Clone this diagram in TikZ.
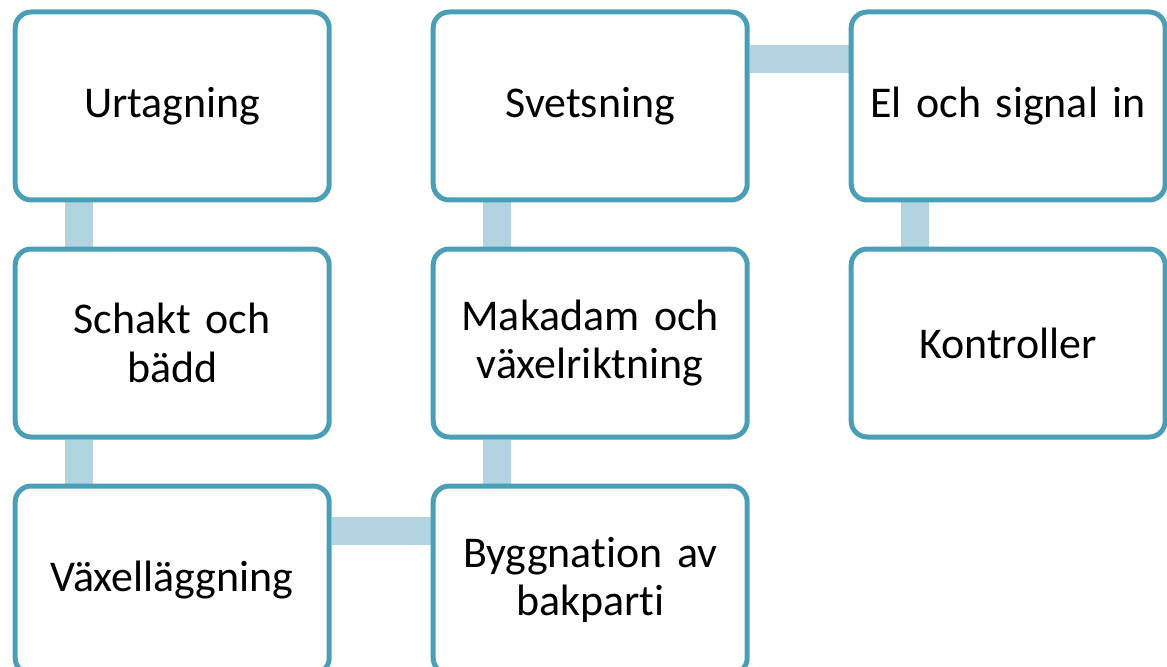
\documentclass[tikz,border=0pt]{standalone}
\usepackage{fontspec}
\setmainfont{Carlito}[Ligatures=NoCommon,WordSpace=0.8]
\usepackage{tikz}
\usetikzlibrary{positioning,backgrounds}
\usepackage{xcolor}
\definecolor{boxline}{HTML}{4A9FB7}
\definecolor{linkblue}{HTML}{B2D4E0}

\begin{document}
\begin{tikzpicture}[
  node distance=0.88cm and 1.98cm,
  box/.style={rectangle,rounded corners=0.32cm,minimum width=6.28cm,
    minimum height=3.76cm,text width=5.9cm,align=center,
    font=\fontsize{25}{27.5}\selectfont,draw=boxline,line width=0.1cm,
    fill=white},
  link/.style={draw=linkblue,line width=0.57cm}
]
  \useasboundingbox (0,0) rectangle (23.34,-13.34);
  \node[box,anchor=north west] (urt) at (0.254,-0.19) {Urtagning};
  \node[box,below=of urt] (schakt) {Schakt och\\bädd};
  \node[box,below=of schakt] (vaxel) {Växelläggning};
  \node[box,right=of vaxel] (bygg) {Byggnation av\\bakparti};
  \node[box,above=of bygg] (makadam) {Makadam och\\växelriktning};
  \node[box,above=of makadam] (svets) {Svetsning};
  \node[box,right=of svets] (el) {El och signal in};
  \node[box,below=of el] (kontroll) {Kontroller};

  \begin{scope}[on background layer]
    \draw[link] ([xshift=1.33cm]urt.south west) -- ([xshift=1.33cm]schakt.north west);
    \draw[link] ([xshift=1.33cm]schakt.south west) -- ([xshift=1.33cm]vaxel.north west);
    \draw[link] ([yshift=-0.95cm]vaxel.north east) -- ([yshift=-0.95cm]bygg.north west);
    \draw[link] ([xshift=1.33cm]bygg.north west) -- ([xshift=1.33cm]makadam.south west);
    \draw[link] ([xshift=1.33cm]makadam.north west) -- ([xshift=1.33cm]svets.south west);
    \draw[link] ([yshift=-0.99cm]svets.north east) -- ([yshift=-0.99cm]el.north west);
    \draw[link] ([xshift=1.33cm]el.south west) -- ([xshift=1.33cm]kontroll.north west);
  \end{scope}
\end{tikzpicture}
\end{document}
